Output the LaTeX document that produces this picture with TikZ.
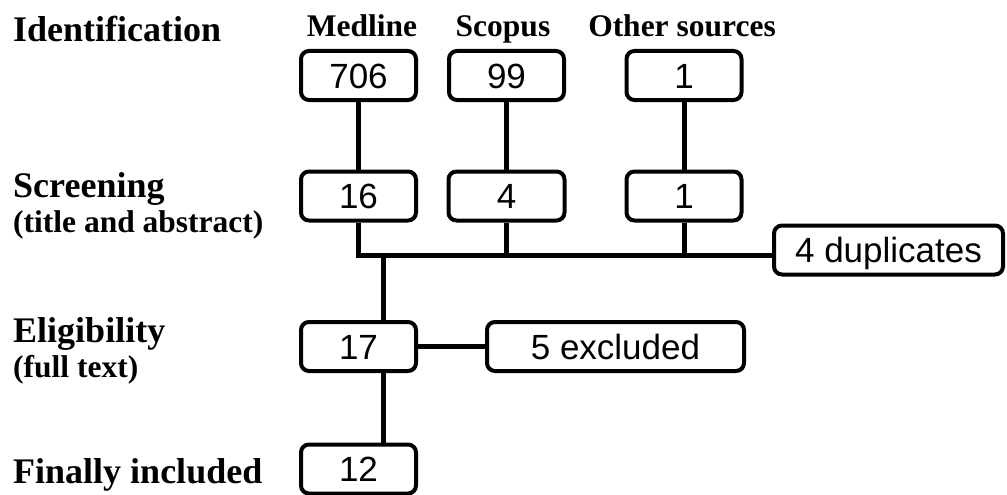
\documentclass[tikz,border=0pt]{standalone}
\usepackage{fontspec}
\setmainfont{Liberation Serif}
\newfontfamily\arialf{Liberation Sans}
\begin{document}
\begin{tikzpicture}[x=1pt,y=-1pt,
  numbox/.style={draw=black,line width=4pt,rounded corners=8pt,fill=white,
    inner sep=0pt,minimum height=49pt,text height=25.5pt,text depth=0pt,
    font=\arialf\fontsize{35}{40}\selectfont},
  conn/.style={line width=5pt},
  stage/.style={anchor=base west,inner sep=0pt,font=\bfseries\fontsize{36}{40}\selectfont},
  substage/.style={anchor=base west,inner sep=0pt,font=\bfseries\fontsize{31.5}{36}\selectfont},
  source/.style={anchor=base,inner sep=0pt,font=\bfseries\fontsize{31.5}{36}\selectfont}]
\useasboundingbox[fill=white] (0,0) rectangle (1007,495);
% stage labels
\node[stage] (lid) at (13,42) {Identification};
\node[stage] (lsc) at (13,197) {Screening};
\node[substage] (lsc2) at (13,232) {(title and abstract)};
\node[stage] (lel) at (13,342) {Eligibility};
\node[substage] (lel2) at (13,377) {(full text)};
\node[stage] (lfi) at (13,483) {Finally included};
% source headers
\node[source] (hmed) at (362,37) {Medline};
\node[source] (hsco) at (503,37) {Scopus};
\node[source] (hoth) at (682,37) {Other sources};
% boxes
\node[numbox,minimum width=115pt] (b706) at (358.5,75.5) {706};
\node[numbox,minimum width=115pt] (b99) at (506.5,75.5) {99};
\node[numbox,minimum width=115pt] (bo1) at (684,75.5) {1};
\node[numbox,minimum width=115pt] (b16) at (358.5,196) {16};
\node[numbox,minimum width=116pt] (b4) at (506.5,196) {4};
\node[numbox,minimum width=115pt] (bs1) at (684,196) {1};
\node[numbox,minimum width=229pt] (dup) at (888.5,250) {4 duplicates};
\node[numbox,minimum width=115pt] (b17) at (358.5,346.5) {17};
\node[numbox,minimum width=257pt] (exc) at (615.5,346.5) {5 excluded};
\node[numbox,minimum width=115pt] (b12) at (358.5,469) {12};
% connectors
\coordinate (hl) at (358.5,255);
\coordinate (j) at (383,255);
\draw[conn] (b706.south) -- (b16.north);
\draw[conn] (b99.south) -- (b4.north);
\draw[conn] (bo1.south) -- (bs1.north);
\draw[conn,line join=miter] (b16.south) -- (hl) -- (hl -| dup.west);
\draw[conn] (b4.south) -- (b4.south |- hl);
\draw[conn] (bs1.south) -- (bs1.south |- hl);
\draw[conn] (j) -- (j |- b17.north);
\draw[conn] (j |- b17.south) -- (j |- b12.north);
\draw[conn] (b17.east) -- (exc.west);
\end{tikzpicture}
\end{document}
